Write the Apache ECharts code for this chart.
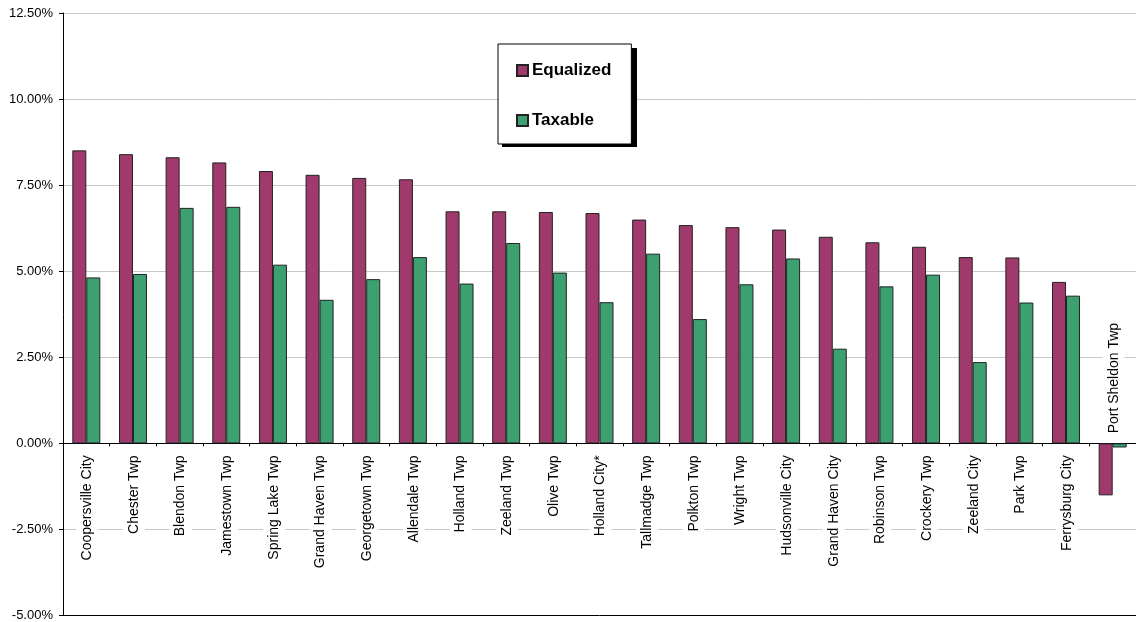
<!DOCTYPE html>
<html>
<head>
<meta charset="utf-8">
<script src="https://cdn.jsdelivr.net/npm/echarts@6/dist/echarts.min.js"></script>
<style>
html,body{margin:0;padding:0;background:#fff;}
#chart{width:1136px;height:622px;}
</style>
</head>
<body>
<div id="chart"></div>
<script>
const categories = ["Coopersville City","Chester Twp","Blendon Twp","Jamestown Twp","Spring Lake Twp","Grand Haven Twp","Georgetown Twp","Allendale Twp","Holland Twp","Zeeland Twp","Olive Twp","Holland City*","Tallmadge Twp","Polkton Twp","Wright Twp","Hudsonville City","Grand Haven City","Robinson Twp","Crockery Twp","Zeeland City","Park Twp","Ferrysburg City","Port Sheldon Twp"];
const equalized = [8.51,8.40,8.31,8.16,7.91,7.80,7.71,7.67,6.74,6.74,6.72,6.69,6.50,6.34,6.28,6.21,6.00,5.84,5.71,5.41,5.40,4.69,-1.51];
const taxable = [4.82,4.92,6.84,6.87,5.19,4.17,4.77,5.41,4.64,5.82,4.96,4.10,5.51,3.61,4.62,5.37,2.75,4.56,4.90,2.36,4.09,4.29,-0.12];
const yTicks = {min:-5, max:12.5, interval:2.5};

const chart = echarts.init(document.getElementById('chart'), null, {renderer:'canvas'});
const font = '"Liberation Sans", Arial, sans-serif';

chart.setOption({
  animation:false,
  backgroundColor:'#fff',
  grid:{left:63, top:13, width:1077, height:603, containLabel:false},
  graphic:[{
    type:'rect', left:502, top:48, z:3, silent:true,
    shape:{width:135, height:99},
    style:{fill:'#000'}
  }],
  legend:{
    data:['Equalized','Taxable'],
    orient:'vertical',
    left:498, top:44,
    padding:[18,20,15,18],
    itemGap:33,
    itemWidth:11, itemHeight:11,
    icon:'rect',
    z:5,
    backgroundColor:'#fff',
    borderColor:'#000', borderWidth:1,
    textStyle:{fontFamily:font, fontSize:17, fontWeight:'bold', color:'#000', padding:[0,0,0,-1]}
  },
  xAxis:[{
    type:'category',
    data:categories,
    axisLine:{onZero:true, lineStyle:{color:'#000', width:1}},
    axisTick:{show:true, interval:0, length:3, inside:false, lineStyle:{color:'#000'}},
    axisLabel:{show:false, interval:0},
    splitLine:{show:false}
  },{
    type:'category',
    data:categories,
    position:'bottom',
    axisLine:{onZero:false, lineStyle:{color:'#000', width:1}},
    axisTick:{show:false},
    axisLabel:{show:false}
  }],
  yAxis:{
    type:'value',
    min:yTicks.min, max:yTicks.max, interval:yTicks.interval,
    axisLine:{show:true, lineStyle:{color:'#000'}},
    axisTick:{show:true, length:4, lineStyle:{color:'#000'}},
    axisLabel:{margin:10, fontFamily:font, fontSize:13, color:'#000', formatter:v=>v.toFixed(2)+'%'},
    splitLine:{show:true, lineStyle:{color:'#c8c8c8', width:1}}
  },
  series:[{
    name:'Equalized', type:'bar', data:equalized,
    barCategoryGap:'40%', barGap:'0%',
    itemStyle:{color:'#A03A6D', borderColor:'#222', borderWidth:1}
  },{
    name:'Taxable', type:'bar', data:taxable,
    barCategoryGap:'40%', barGap:'0%',
    itemStyle:{color:'#3DA070', borderColor:'#222', borderWidth:1}
  },{
    name:'labels', type:'custom',
    data:categories.map((c,i)=>[i,0]),
    z:5, silent:true,
    renderItem:function(params, api){
      const i = api.value(0);
      const p = api.coord([i, 0]);
      const neg = equalized[i] < 0;
      return {
        type:'text',
        x:p[0]+1, y: neg ? p[1]-8 : p[1]+10,
        rotation:Math.PI/2,
        style:{
          text:categories[i],
          font:'14px ' + font,
          fill:'#000',
          align: neg ? 'left' : 'right',
          verticalAlign:'middle',
          backgroundColor:'#fff',
          padding:[4,2,4,2]
        }
      };
    }
  }]
});
</script>
</body>
</html>
